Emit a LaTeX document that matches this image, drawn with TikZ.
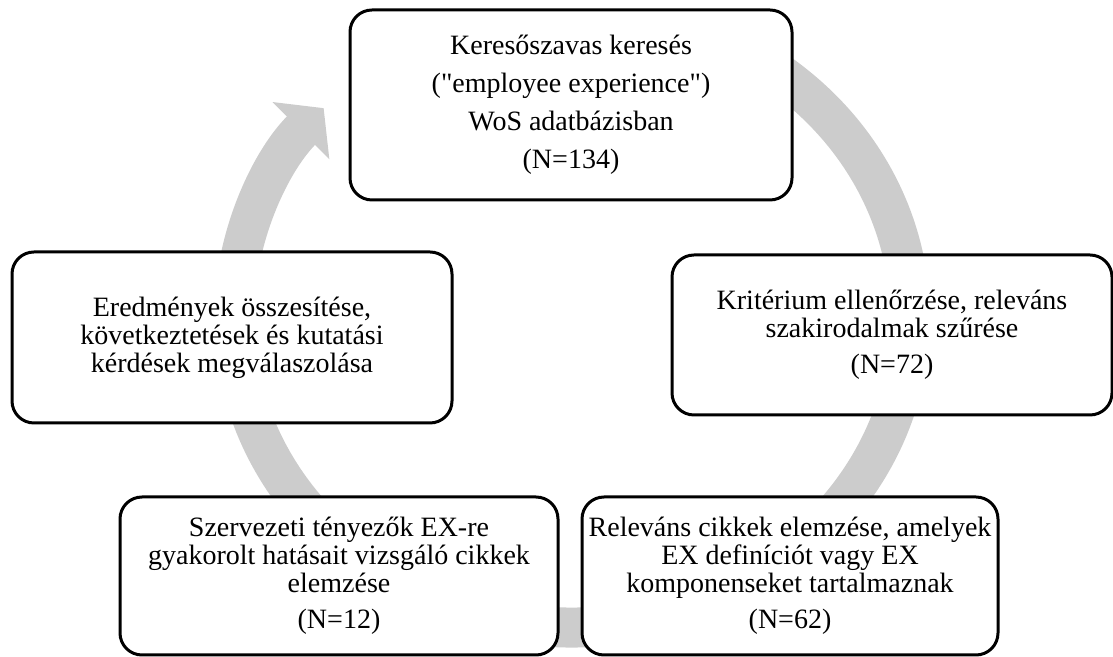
\documentclass[tikz,border=0pt]{standalone}
\usepackage{fontspec}
\setmainfont{Liberation Serif}
\usetikzlibrary{arrows.meta}

\tikzset{
  stepbox/.style={draw, line width=1.5pt, rounded corners=11pt, fill=white,
    align=center, inner sep=0pt, font=\fontsize{14}{14}\selectfont},
  ring/.style={line width=20pt, draw=gray!40,
    -{Triangle[width=39.5pt,length=16pt]}},
}

\begin{document}
\begin{tikzpicture}[x=0.5pt,y=0.5pt]
\useasboundingbox (0,0) rectangle (1113,657);
% grey cycle behind the boxes
\coordinate (ringstart) at (765.9,592.5);
\draw[ring] (ringstart) arc[start angle=55, end angle=-222.7,
  x radius=338, y radius=309.5];
% the five steps
\node[stepbox, minimum width=221pt, minimum height=95pt,
  font=\fontsize{14}{19}\selectfont] (kereses) at (571,552)
  {Keresőszavas keresés\\(\textquotedbl employee experience\textquotedbl)\\WoS adatbázisban\\(N=134)};
\node[stepbox, minimum width=220pt, minimum height=80pt] (kriterium) at (892,322)
  {Kritérium ellenőrzése, releváns\\szakirodalmak szűrése\\[4pt](N=72)};
\node[stepbox, minimum width=208pt, minimum height=79pt] (elemzes) at (790,81)
  {Releváns cikkek elemzése, amelyek\\EX definíciót vagy EX\\komponenseket tartalmaznak\\[4pt](N=62)};
\node[stepbox, minimum width=219pt, minimum height=79pt] (szervezeti) at (339,81)
  {Szervezeti tényezők EX-re\\gyakorolt hatásait vizsgáló cikkek\\elemzése\\[4pt](N=12)};
\node[stepbox, minimum width=220pt, minimum height=85.5pt] (eredmenyek) at (232,319.5)
  {Eredmények összesítése,\\következtetések és kutatási\\kérdések megválaszolása};
\end{tikzpicture}
\end{document}
